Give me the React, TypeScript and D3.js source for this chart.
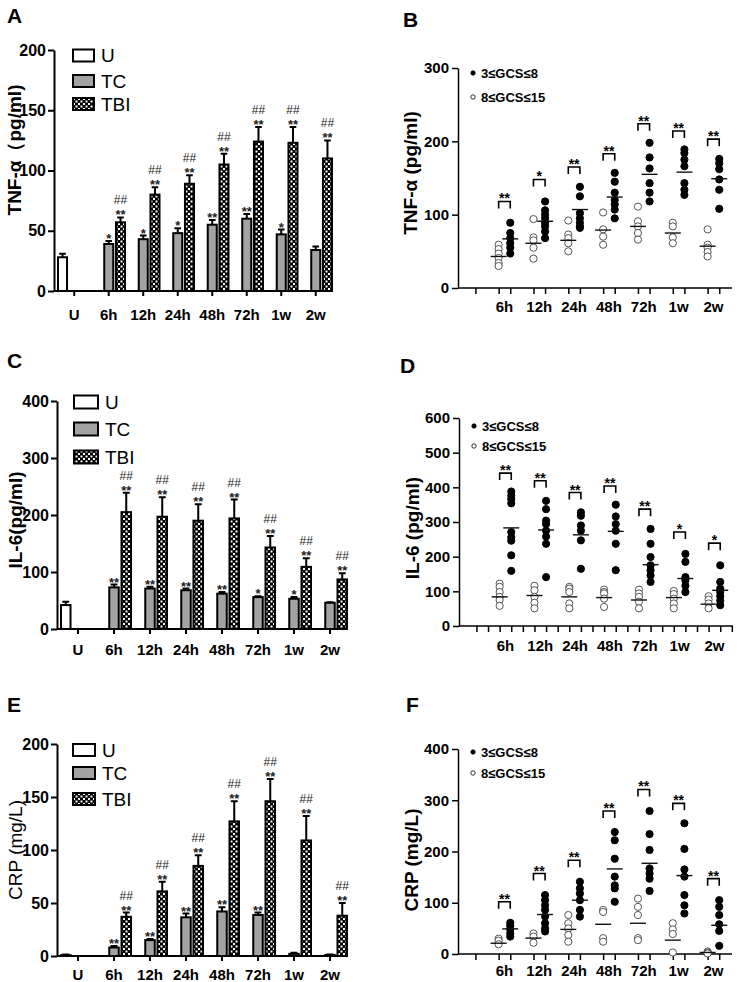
import { useEffect, useRef } from "react";
import * as d3 from "d3";

const FONT = "Liberation Sans, Arial, sans-serif";
const NARROW = "Liberation Sans Narrow, Arial Narrow, Liberation Sans, sans-serif";

const times = ["6h", "12h", "24h", "48h", "72h", "1w", "2w"];
const barCats = ["U", ...times];
const seriesKeys = ["U", "TC", "TBI"];
const legendLow = "3≤GCS≤8";
const legendHigh = "8≤GCS≤15";

// A: TNF-α 막대
const tnfU = [28];
const tnfUErr = [3];
const tnfTC = [39, 43, 48, 55, 60, 47, 34];
const tnfTCErr = [2.5, 3, 4, 4, 4, 4, 3];
const tnfTBI = [57, 80, 89, 105, 124, 123, 110];
const tnfTBIErr = [4, 6, 7, 9, 12, 13, 15];
const tnfTCSig = ["*", "*", "*", "**", "**", "*", ""];

// C: IL-6 막대
const il6U = [42];
const il6UErr = [6];
const il6TC = [73, 71, 68, 62, 56, 53, 46];
const il6TCErr = [5, 3, 3, 3, 1.5, 3, 1];
const il6TBI = [205, 197, 190, 194, 143, 109, 87];
const il6TBIErr = [34, 34, 29, 33, 20, 15, 11];
const il6TCSig = ["**", "**", "**", "**", "*", "*", ""];

// E: CRP 막대
const crpU = [0.8];
const crpUErr = [0.6];
const crpTC = [8, 15, 36.5, 42, 38.7, 2, 1];
const crpTCErr = [1.5, 1, 3.5, 4, 2.3, 1, 0.5];
const crpTBI = [37, 61, 85, 127, 146, 109, 38];
const crpTBIErr = [4, 9, 10, 19, 21, 23, 12];
const crpTCSig = ["**", "**", "**", "**", "**", "", ""];

// B: TNF-α 산점도
const tnfOpen = [
  [59, 53, 47, 41, 34, 30],
  [94, 69, 65, 55, 40],
  [92, 73, 68, 61, 50],
  [103, 80, 70, 59],
  [111, 91, 84, 75, 66],
  [89, 84, 69, 61],
  [80, 59, 55, 49, 43],
];
const tnfClosed = [
  [89, 75, 68, 61, 55, 47],
  [118, 106, 100, 95, 89, 84, 77, 68],
  [138, 125, 102, 95, 89, 84, 82],
  [157, 145, 130, 120, 114, 107, 95],
  [198, 178, 163, 143, 130, 118],
  [189, 184, 175, 166, 143, 134, 127],
  [176, 170, 162, 148, 134, 108],
];
const tnfOpenMean = [43, 61, 65, 79, 84, 75, 57];
const tnfClosedMean = [67, 91, 107, 124, 155, 158, 149];
const tnfBracket = [118, 148, 165, 183, 224, 214, 203];
const tnfScatSig = ["**", "*", "**", "**", "**", "**", "**"];

// D: IL-6 산점도
const il6Open = [
  [122, 113, 98, 84, 75, 58],
  [116, 103, 84, 67, 51],
  [113, 108, 98, 65, 51],
  [105, 98, 94, 79, 55],
  [105, 94, 84, 70, 51],
  [101, 92, 79, 65, 51],
  [86, 76, 65, 51],
];
const il6Closed = [
  [388, 376, 366, 354, 271, 256, 246, 204, 159],
  [361, 337, 304, 294, 275, 258, 237, 141],
  [328, 318, 290, 275, 247, 165],
  [350, 316, 294, 275, 237, 161],
  [280, 237, 199, 175, 161, 146, 127],
  [208, 185, 141, 132, 116, 98],
  [175, 127, 108, 98, 86, 73, 60],
];
const il6OpenMean = [84, 88, 84, 82, 75, 82, 63];
const il6ClosedMean = [283, 277, 263, 273, 177, 137, 103];
const il6Bracket = [441, 419, 385, 404, 337, 271, 239];
const il6ScatSig = ["**", "**", "**", "**", "**", "*", "*"];

// F: CRP 산점도
const crpOpen = [
  [30, 26, 19],
  [40, 34, 22],
  [76, 60, 50, 37, 24],
  [86, 82, 31, 24],
  [108, 92, 76, 31, 27],
  [60, 48, 39, 3],
  [5, 3, 1],
];
const crpClosed = [
  [61, 55, 48, 40, 34],
  [115, 105, 95, 86, 73, 60, 50, 44],
  [141, 128, 118, 105, 86, 73],
  [238, 222, 186, 151, 134, 128, 102],
  [279, 234, 203, 167, 157, 147, 123],
  [255, 205, 165, 151, 115, 95, 79],
  [105, 92, 76, 58, 45, 16],
];
const crpOpenMean = [21, 31, 48, 58, 60, 27, 3];
const crpClosedMean = [49, 77, 105, 166, 177, 153, 56];
const crpBracket = [102, 157, 183, 279, 321, 294, 147];
const crpScatSig = ["**", "**", "**", "**", "**", "**", "**"];

const fills: Record<string, string> = { U: "#ffffff", TC: "#a3a3a3", TBI: "url(#checker)" };

const drawLetter = (svg: any, letter: string, x: number, y: number) => {
  svg.append("text").attr("x", x).attr("y", y).attr("font-family", FONT)
    .attr("font-weight", "bold").attr("font-size", 21).text(letter);
};

const drawYLabel = (svg: any, label: string, x: number, y: number, bold: boolean) => {
  svg.append("text")
    .attr("transform", `translate(${x},${y}) rotate(-90)`)
    .attr("text-anchor", "middle").attr("dominant-baseline", "central")
    .attr("font-family", FONT).attr("font-size", 19)
    .attr("font-weight", bold ? "bold" : "normal")
    .text(label);
};

const drawBarPanel = (svg: any, c: any) => {
  const g = svg.append("g");
  const x = d3.scaleBand().domain(barCats).range([c.x0 + 3, c.x1]).padding(0);
  const xs = d3.scaleBand().domain(seriesKeys).range([0, x.bandwidth()]).paddingInner(0.06);
  const y = d3.scaleLinear().domain([0, c.yMax]).range([c.y0, c.yTop]);
  const bw = xs.bandwidth();

  const rows = [
    { cat: "U", key: "U", v: c.u[0], e: c.uErr[0], sig: "", hash: false },
    ...times.flatMap((t, i) => [
      { cat: t, key: "TC", v: c.tc[i], e: c.tcErr[i], sig: c.tcSig[i], hash: false },
      { cat: t, key: "TBI", v: c.tbi[i], e: c.tbiErr[i], sig: "**", hash: true },
    ]),
  ];
  const bx = (d: any) => (x(d.cat) as number) + (xs(d.key) as number);

  // 오차막대 (위쪽만)
  g.selectAll(".err").data(rows).join("path")
    .attr("d", (d: any) => {
      const cx = bx(d) + bw / 2;
      const yt = y(d.v + d.e);
      return `M${cx},${y(d.v)}V${yt}M${cx - bw * 0.3},${yt}H${cx + bw * 0.3}`;
    })
    .attr("stroke", "#000").attr("stroke-width", 2).attr("fill", "none");

  g.selectAll(".bar").data(rows).join("rect")
    .attr("x", (d: any) => bx(d) + 1)
    .attr("y", (d: any) => y(d.v))
    .attr("width", bw - 2)
    .attr("height", (d: any) => c.y0 - y(d.v))
    .attr("fill", (d: any) => fills[d.key])
    .attr("stroke", "#000").attr("stroke-width", 2);

  // 유의성 표시: ** 는 오차막대 바로 위, ## 는 그 위
  g.selectAll(".sig").data(rows.filter((d) => d.sig)).join("text")
    .attr("x", (d: any) => bx(d) + bw / 2)
    .attr("y", (d: any) => y(d.v + d.e) + 2)
    .attr("text-anchor", "middle").attr("font-family", FONT)
    .attr("font-size", 13).attr("font-weight", "bold").attr("fill", "#222")
    .text((d: any) => d.sig);
  g.selectAll(".hash").data(rows.filter((d) => d.hash)).join("text")
    .attr("x", (d: any) => bx(d) + bw / 2)
    .attr("y", (d: any) => y(d.v + d.e) - 13)
    .attr("text-anchor", "middle").attr("font-family", FONT)
    .attr("font-size", 12).attr("fill", "#222")
    .text("##");

  // 축
  const ya = g.append("g").attr("transform", `translate(${c.x0},0)`)
    .call(d3.axisLeft(y).tickValues(d3.range(0, c.yMax + 1, c.yStep)).tickSize(6).tickSizeOuter(0).tickPadding(2));
  ya.attr("font-family", NARROW).attr("font-size", 16).attr("font-weight", "bold");
  ya.select(".domain").attr("stroke-width", 2);
  ya.selectAll("line").attr("stroke-width", 2);

  const xa = g.append("g").attr("transform", `translate(0,${c.y0})`)
    .call(d3.axisBottom(x).tickSize(5).tickSizeOuter(0).tickPadding(c.xPad));
  xa.attr("font-family", FONT).attr("font-size", 15).attr("font-weight", "bold");
  xa.select(".domain").attr("d", `M${c.x0},0H${c.x1}`).attr("stroke-width", 2);
  xa.selectAll("line").attr("stroke-width", 2);

  // 범례
  seriesKeys.forEach((k, i) => {
    const ly = c.legendY[i];
    g.append("rect").attr("x", c.legendX).attr("y", ly - c.legendH / 2)
      .attr("width", c.legendW).attr("height", c.legendH)
      .attr("fill", fills[k]).attr("stroke", "#000").attr("stroke-width", 2);
    g.append("text").attr("x", c.legendX + c.legendW + 7).attr("y", ly + 6.5)
      .attr("font-family", NARROW).attr("font-size", 19).text(k);
  });

  drawLetter(svg, c.letter, c.letterX, c.letterY);
  drawYLabel(svg, c.yLabel, c.yLabelX, c.yLabelY, c.yLabelBold);
};

const drawScatterPanel = (svg: any, c: any) => {
  const g = svg.append("g");
  const slot = d3.scaleLinear().domain([-1.5, 22.1]).range([c.x0, c.x1]);
  const y = d3.scaleLinear().domain([0, c.yMax]).range([c.y0, c.yTop]);

  const ya = g.append("g").attr("transform", `translate(${c.x0},0)`)
    .call(d3.axisLeft(y).tickValues(d3.range(0, c.yMax + 1, c.yStep)).tickSize(6).tickSizeOuter(0).tickPadding(3));
  ya.attr("font-family", FONT).attr("font-size", 15).attr("font-weight", "bold");
  ya.select(".domain").attr("stroke-width", 1.5);
  ya.selectAll("line").attr("stroke-width", 1.5);

  const tickSlots = c.allTicks
    ? d3.range(0, 23)
    : [0, ...times.flatMap((_, i) => [2 + 3 * i, 3 + 3 * i])];
  const xa = g.append("g").attr("transform", `translate(0,${c.y0})`)
    .call(d3.axisBottom(slot).tickValues(tickSlots).tickSize(6).tickSizeOuter(0).tickFormat(() => ""));
  xa.select(".domain").attr("d", `M${c.x0},0H${c.x1}`).attr("stroke-width", 1.5);
  xa.selectAll("line").attr("stroke-width", 1.5);

  g.selectAll(".xl").data(times).join("text")
    .attr("x", (_: any, i: number) => slot(2.5 + 3 * i))
    .attr("y", c.y0 + c.xPad)
    .attr("text-anchor", "middle").attr("font-family", FONT)
    .attr("font-size", 15).attr("font-weight", "bold")
    .text((d: string) => d);

  const pts = times.flatMap((_, i) => [
    ...c.open[i].map((v: number) => ({ s: 2 + 3 * i, v, filled: false })),
    ...c.closed[i].map((v: number) => ({ s: 3 + 3 * i, v, filled: true })),
  ]);
  g.selectAll(".pt").data(pts).join("circle")
    .attr("cx", (d: any) => slot(d.s))
    .attr("cy", (d: any) => y(d.v))
    .attr("r", 3.6)
    .attr("fill", (d: any) => (d.filled ? "#000" : "#fff"))
    .attr("stroke", (d: any) => (d.filled ? "#000" : "#555"))
    .attr("stroke-width", 1);

  const means = times.flatMap((_, i) => [
    { s: 2 + 3 * i, v: c.openMean[i] },
    { s: 3 + 3 * i, v: c.closedMean[i] },
  ]);
  g.selectAll(".mean").data(means).join("line")
    .attr("x1", (d: any) => slot(d.s) - 8).attr("x2", (d: any) => slot(d.s) + 8)
    .attr("y1", (d: any) => y(d.v)).attr("y2", (d: any) => y(d.v))
    .attr("stroke", "#111").attr("stroke-width", 1.4);

  // 괄호 + 별표
  g.selectAll(".br").data(c.bracket).join("path")
    .attr("d", (d: number, i: number) => {
      const a = slot(2 + 3 * i), b = slot(3 + 3 * i), yy = y(d);
      return `M${a},${yy + 7}V${yy}H${b}V${yy + 7}`;
    })
    .attr("fill", "none").attr("stroke", "#000").attr("stroke-width", 1.6);
  g.selectAll(".bs").data(c.sig).join("text")
    .attr("x", (_: any, i: number) => slot(2.5 + 3 * i))
    .attr("y", (_: any, i: number) => y(c.bracket[i]) + 2)
    .attr("text-anchor", "middle").attr("font-family", FONT)
    .attr("font-size", 14).attr("font-weight", "bold")
    .text((d: string) => d);

  // 범례
  [legendLow, legendHigh].forEach((t, i) => {
    const ly = c.legendY[i];
    g.append("circle").attr("cx", c.x0 + 15).attr("cy", ly).attr("r", 2.2)
      .attr("fill", i === 0 ? "#000" : "#fff").attr("stroke", "#000").attr("stroke-width", 0.8);
    g.append("text").attr("x", c.x0 + 23).attr("y", ly + 4.5)
      .attr("font-family", FONT).attr("font-size", 13).attr("font-weight", "bold").text(t);
  });

  drawLetter(svg, c.letter, c.letterX, c.letterY);
  drawYLabel(svg, c.yLabel, c.yLabelX, c.yLabelY, true);
};

const App = () => {
  const svgRef = useRef<SVGSVGElement>(null);

  useEffect(() => {
    const svg = d3.select(svgRef.current);
    svg.selectAll("*").remove();

    const pat = svg.append("defs").append("pattern").attr("id", "checker")
      .attr("width", 5).attr("height", 5).attr("patternUnits", "userSpaceOnUse");
    pat.append("rect").attr("width", 5).attr("height", 5).attr("fill", "#000");
    pat.append("rect").attr("x", 0.5).attr("y", 0.5).attr("width", 2).attr("height", 2).attr("fill", "#fff");
    pat.append("rect").attr("x", 3).attr("y", 3).attr("width", 2).attr("height", 2).attr("fill", "#fff");

    drawBarPanel(svg, {
      letter: "A", letterX: 7, letterY: 23,
      x0: 54, x1: 333, y0: 291, yTop: 50, yMax: 200, yStep: 50, xPad: 13,
      yLabel: "TNF-α（pg/ml)", yLabelX: 14, yLabelY: 150, yLabelBold: true,
      legendX: 73, legendY: [55.5, 81, 104], legendW: 21, legendH: 12,
      u: tnfU, uErr: tnfUErr, tc: tnfTC, tcErr: tnfTCErr, tbi: tnfTBI, tbiErr: tnfTBIErr, tcSig: tnfTCSig,
    });
    drawBarPanel(svg, {
      letter: "C", letterX: 7, letterY: 368,
      x0: 57, x1: 348, y0: 629, yTop: 401, yMax: 400, yStep: 100, xPad: 10,
      yLabel: "IL-6(pg/ml)", yLabelX: 15, yLabelY: 520, yLabelBold: true,
      legendX: 74, legendY: [402, 429, 457], legendW: 24, legendH: 13,
      u: il6U, uErr: il6UErr, tc: il6TC, tcErr: il6TCErr, tbi: il6TBI, tbiErr: il6TBIErr, tcSig: il6TCSig,
    });
    drawBarPanel(svg, {
      letter: "E", letterX: 7, letterY: 712,
      x0: 57, x1: 348, y0: 956, yTop: 744, yMax: 200, yStep: 50, xPad: 8,
      yLabel: "CRP (mg/L)", yLabelX: 15, yLabelY: 850, yLabelBold: false,
      legendX: 73, legendY: [750, 773, 799], legendW: 22, legendH: 12,
      u: crpU, uErr: crpUErr, tc: crpTC, tcErr: crpTCErr, tbi: crpTBI, tbiErr: crpTBIErr, tcSig: crpTCSig,
    });

    drawScatterPanel(svg, {
      letter: "B", letterX: 403, letterY: 27,
      x0: 458, x1: 732, y0: 288, yTop: 68, yMax: 300, yStep: 100, xPad: 24, allTicks: false,
      yLabel: "TNF-α (pg/ml)", yLabelX: 410, yLabelY: 173, legendY: [73, 97],
      open: tnfOpen, closed: tnfClosed, openMean: tnfOpenMean, closedMean: tnfClosedMean,
      bracket: tnfBracket, sig: tnfScatSig,
    });
    drawScatterPanel(svg, {
      letter: "D", letterX: 400, letterY: 373,
      x0: 459, x1: 733, y0: 626, yTop: 418, yMax: 600, yStep: 100, xPad: 25, allTicks: true,
      yLabel: "IL-6 (pg/ml)", yLabelX: 412, yLabelY: 528, legendY: [426, 446],
      open: il6Open, closed: il6Closed, openMean: il6OpenMean, closedMean: il6ClosedMean,
      bracket: il6Bracket, sig: il6ScatSig,
    });
    drawScatterPanel(svg, {
      letter: "F", letterX: 406, letterY: 712,
      x0: 458, x1: 732, y0: 954, yTop: 749, yMax: 400, yStep: 100, xPad: 22, allTicks: false,
      yLabel: "CRP (mg/L)", yLabelX: 411, yLabelY: 860, legendY: [752, 773],
      open: crpOpen, closed: crpClosed, openMean: crpOpenMean, closedMean: crpClosedMean,
      bracket: crpBracket, sig: crpScatSig,
    });
  }, []);

  return (
    <svg
      ref={svgRef}
      width={737}
      height={982}
      style={{ position: "absolute", left: 0, top: 0, background: "#fff" }}
    />
  );
};

export default App;
